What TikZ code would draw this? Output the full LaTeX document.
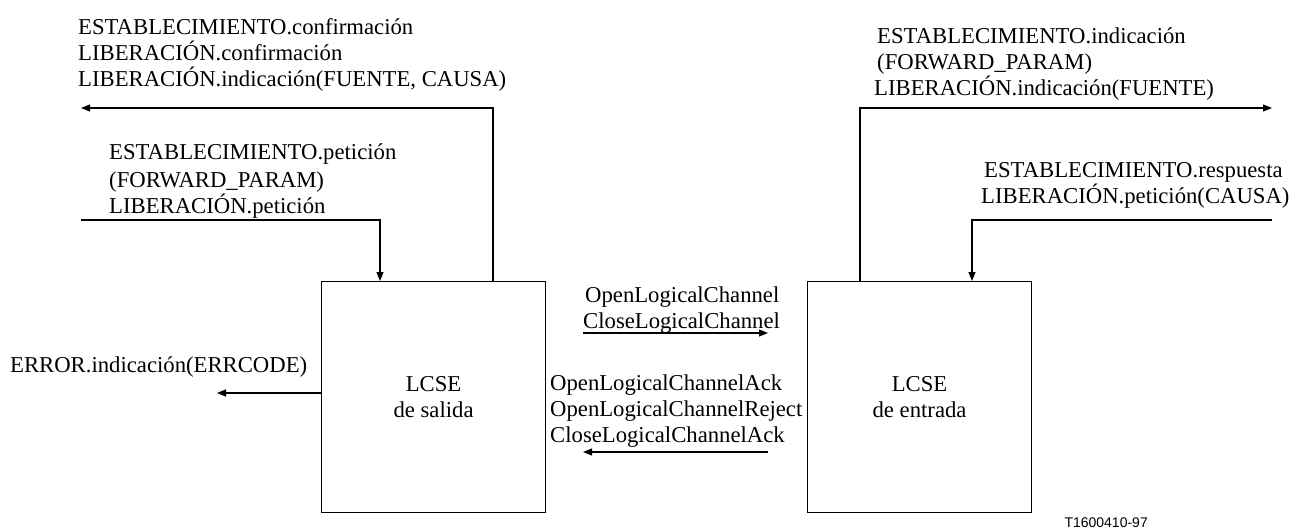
\documentclass[tikz,border=0pt]{standalone}
\usepackage{fontspec}
\setmainfont{Liberation Serif}
\newfontfamily\lsans{Liberation Sans}
\usetikzlibrary{arrows.meta}
\begin{document}
\begin{tikzpicture}[x=1pt,y=-1pt,
  lbl/.style={font=\fontsize{22.7}{26}\selectfont, inner sep=0pt, anchor=base west},
  box/.style={draw, line width=1.1pt, minimum width=224pt, minimum height=231pt, inner sep=0pt, anchor=north west, align=center, font=\fontsize{22.7}{26}\selectfont},
  conn/.style={line width=1.1pt, -{Triangle[length=9pt,width=7pt]}},
]
\useasboundingbox (0,0) rectangle (1306,532);

% boxes
\node[box] (salida) at (321,281) {LCSE\\de salida};
\node[box] (entrada) at (807,281) {LCSE\\de entrada};

% top-left outgoing
\node[lbl] (tl1) at (78,35) {ESTABLECIMIENTO.confirmación};
\node[lbl] (tl2) at (78,61) {LIBERACIÓN.confirmación};
\node[lbl] (tl3) at (78,87) {LIBERACIÓN.indicación(FUENTE, CAUSA)};
\coordinate (tlend) at (81,108);
\draw[conn] ([xshift=172pt]salida.north west) |- (tlend);

% left incoming
\node[lbl] (l21) at (109,160) {ESTABLECIMIENTO.petición};
\node[lbl] (l22) at (109,187) {(FORWARD\_PARAM)};
\node[lbl] (l23) at (109,213) {LIBERACIÓN.petición};
\coordinate (l2start) at (81,220);
\draw[conn] (l2start) -| ([xshift=59pt]salida.north west);

% top-right outgoing
\node[lbl] (tr1) at (877,44) {ESTABLECIMIENTO.indicación};
\node[lbl] (tr2) at (877,70) {(FORWARD\_PARAM)};
\node[lbl] (tr3) at (874,96) {LIBERACIÓN.indicación(FUENTE)};
\coordinate (trend) at (1272,108);
\draw[conn] ([xshift=53pt]entrada.north west) |- (trend);

% right incoming
\node[lbl] (r21) at (984,177) {ESTABLECIMIENTO.respuesta};
\node[lbl] (r22) at (981,203) {LIBERACIÓN.petición(CAUSA)};
\coordinate (r2start) at (1272,220);
\draw[conn] (r2start) -| ([xshift=165pt]entrada.north west);

% middle forward
\node[lbl] (m11) at (585,302) {OpenLogicalChannel};
\node[lbl] (m12) at (583,328) {CloseLogicalChannel};
\coordinate (m1a) at (583,333);
\coordinate (m1b) at (768,333);
\draw[conn] (m1a) -- (m1b);

% middle backward
\node[lbl] (m21) at (550,390) {OpenLogicalChannelAck};
\node[lbl] (m22) at (550,416) {OpenLogicalChannelReject};
\node[lbl] (m23) at (550,442) {CloseLogicalChannelAck};
\coordinate (m2a) at (768,452);
\coordinate (m2b) at (583,452);
\draw[conn] (m2a) -- (m2b);

% error
\node[lbl] (err) at (10,372) {ERROR.indicación(ERRCODE)};
\coordinate (errend) at (217,393);
\draw[conn] (salida.west |- errend) -- (errend);

% figure id
\node[inner sep=0pt, anchor=base east, font=\lsans\fontsize{14}{16}\selectfont] (fid) at (1148,527) {T1600410-97};
\end{tikzpicture}
\end{document}
